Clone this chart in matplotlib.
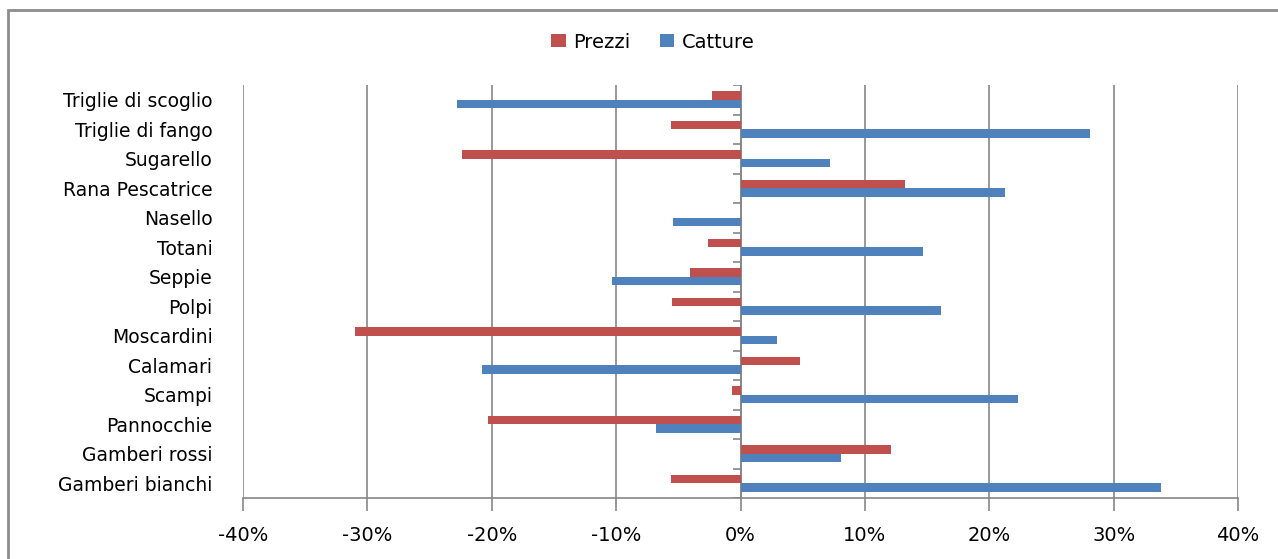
import matplotlib
matplotlib.use("Agg")
import matplotlib.pyplot as plt
from matplotlib.patches import Rectangle, Patch
from matplotlib.ticker import FuncFormatter

# Species, listed bottom to top
species = [
    "Gamberi bianchi", "Gamberi rossi", "Pannocchie", "Scampi", "Calamari",
    "Moscardini", "Polpi", "Seppie", "Totani", "Nasello",
    "Rana Pescatrice", "Sugarello", "Triglie di fango", "Triglie di scoglio",
]
# Percentage changes
prezzi = [-5.6, 12.1, -20.3, -0.7, 4.8, -31.0, -5.5, -4.1, -2.6, 0.0,
          13.2, -22.4, -5.6, -2.3]
catture = [33.8, 8.1, -6.8, 22.3, -20.8, 2.9, 16.1, -10.3, 14.7, -5.4,
           21.3, 7.2, 28.1, -22.8]
x_ticks = [-40, -30, -20, -10, 0, 10, 20, 30, 40]

RED = "#C0504D"
BLUE = "#4F81BD"
GRID = "#868686"
FONT = "DejaVu Sans"

W, H = 1278, 559
fig = plt.figure(figsize=(W / 100, H / 100), dpi=100)
fig.patch.set_facecolor("white")

# outer chart frame (runs past the right and bottom edges)
fig.patches.append(Rectangle((8 / W, -0.1), 1.2, 1 - 10 / H + 0.1,
                             transform=fig.transFigure, fill=False,
                             edgecolor="#8c8c8c", linewidth=2.0, clip_on=False))

ax = fig.add_axes([243 / W, 1 - 498 / H, (1238 - 243) / W, (498 - 85) / H])

pos = list(range(len(species)))
h = 0.29
ax.barh([p + h / 2 for p in pos], prezzi, height=h, color=RED, label="Prezzi", zorder=3)
ax.barh([p - h / 2 for p in pos], catture, height=h, color=BLUE, label="Catture", zorder=3)

ax.set_xlim(-40, 40)
ax.set_ylim(-0.5, len(species) - 0.5)

ax.set_xticks(x_ticks)
ax.xaxis.set_major_formatter(FuncFormatter(lambda v, _: f"{v:.0f}%"))
ax.set_yticks(pos)
ax.set_yticklabels(species)

for s in ["top", "right", "left"]:
    ax.spines[s].set_visible(False)
ax.spines["bottom"].set_color(GRID)
ax.spines["bottom"].set_linewidth(1.2)

ax.grid(axis="x", color=GRID, linewidth=1.2, zorder=0)
ax.tick_params(axis="x", direction="out", length=9, width=1.2, color=GRID,
               pad=11, labelsize=14)
ax.tick_params(axis="y", length=0, pad=22, labelsize=13.5)
for lab in ax.get_xticklabels() + ax.get_yticklabels():
    lab.set_fontfamily(FONT)

# category axis at zero with boundary ticks
ax.axvline(0, color=GRID, linewidth=1.2, zorder=2)
tick_len = 8 / ((1238 - 243) / 80)
ax.hlines([p - 0.5 for p in pos] + [len(species) - 0.5], -tick_len, 0,
          color=GRID, linewidth=1.2, zorder=2)

handles = [Patch(facecolor=RED, label="Prezzi"), Patch(facecolor=BLUE, label="Catture")]
fig.legend(handles=handles, loc="center", bbox_to_anchor=(653 / W, 1 - 42 / H),
           ncol=2, frameon=False, prop={"family": FONT, "size": 14},
           handlelength=0.75, handleheight=0.6, handletextpad=0.4, columnspacing=1.5)

fig.savefig("out.png", dpi=100)
